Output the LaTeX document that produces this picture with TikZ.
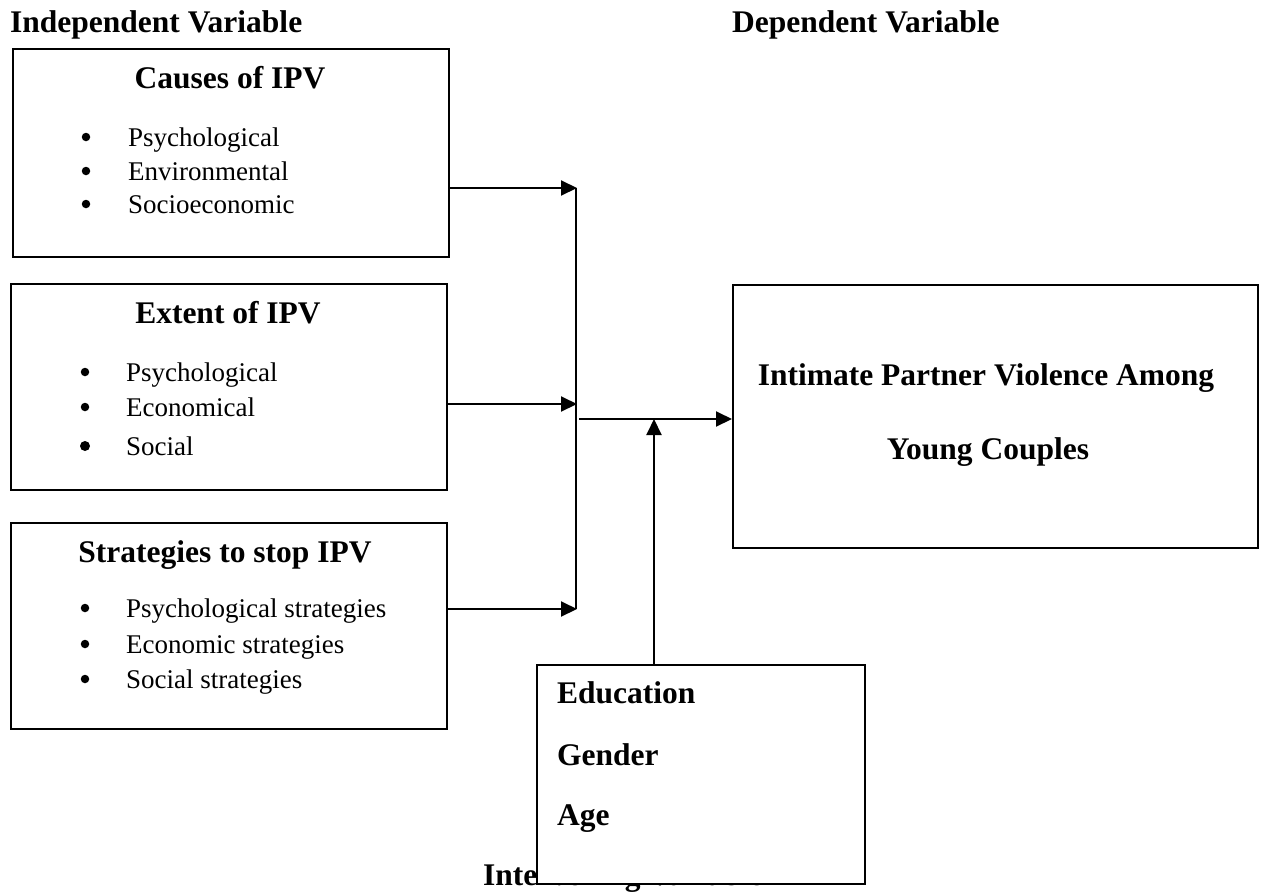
\documentclass[tikz,border=0pt]{standalone}
\usepackage{fontspec}
\setmainfont{Liberation Serif}
\usetikzlibrary{arrows.meta}
\tikzset{
 boxnode/.style={draw, line width=2pt, fill=white, inner sep=0pt, anchor=north west},
 head/.style={font=\fontsize{31.5}{36}\selectfont\bfseries, inner sep=0pt, anchor=base},
 headw/.style={head, anchor=base west},
 item/.style={font=\fontsize{27}{32}\selectfont, inner sep=0pt, anchor=base west},
 bul/.style={circle, fill=black, inner sep=0pt, minimum size=8.5pt},
 bigbul/.style={bul, minimum size=10pt},
 arr/.style={line width=2pt, -{Triangle[length=16pt,width=15pt]}},
 bus/.style={line width=1.2pt},
}
\begin{document}
\begin{tikzpicture}[x=1pt,y=-1pt]
\useasboundingbox (0,0) rectangle (1263,892);

% top labels
\node[headw] (indep) at (10,32) {Independent Variable};
\node[headw] (dep) at (732,32) {Dependent Variable};

% box 1
\node[boxnode, minimum width=436pt, minimum height=208pt] (causes) at (12,48) {};
\node[head] (causesT) at (230,88) {Causes of IPV};
\node[bul] (b11) at (86,137) {};
\node[item] (i11) at (128,146) {Psychological};
\node[bul] (b12) at (86,171) {};
\node[item] (i12) at (128,180) {Environmental};
\node[bul] (b13) at (86,204) {};
\node[item] (i13) at (128,213) {Socioeconomic};

% box 2
\node[boxnode, minimum width=436pt, minimum height=206pt] (extent) at (10,283) {};
\node[head] (extentT) at (228,323) {Extent of IPV};
\node[bul] (b21) at (85,372) {};
\node[item] (i21) at (126,381) {Psychological};
\node[bul] (b22) at (85,407) {};
\node[item] (i22) at (126,416) {Economical};
\node[bigbul] (b23) at (85,446) {};
\node[item] (i23) at (126,455) {Social};

% box 3
\node[boxnode, minimum width=436pt, minimum height=206pt] (strat) at (10,522) {};
\node[head] (stratT) at (225,562) {Strategies to stop IPV};
\node[bul] (b31) at (85,608) {};
\node[item] (i31) at (126,617) {Psychological strategies};
\node[bul] (b32) at (85,644) {};
\node[item] (i32) at (126,653) {Economic strategies};
\node[bul] (b33) at (85,679) {};
\node[item] (i33) at (126,688) {Social strategies};

% dependent box
\node[boxnode, minimum width=525pt, minimum height=263pt] (ipv) at (732,284) {};
\node[head] (ipv1) at (986,385) {Intimate Partner Violence Among};
\node[head] (ipv2) at (988,459) {Young Couples};

% intervening label (partly covered by the box)
\node[headw] (intlab) at (483,885) {Intervening Variable};

% intervening box
\node[boxnode, minimum width=328pt, minimum height=219pt] (inter) at (536,664) {};
\node[headw] (edu) at (557,703) {Education};
\node[headw] (gen) at (557,765) {Gender};
\node[headw] (age) at (557,825) {Age};

% connectors
\coordinate (j1) at (577,188);
\coordinate (j2) at (577,404);
\coordinate (j3) at (577,609);
\coordinate (bt) at (576,188);
\coordinate (bb) at (576,609);
\coordinate (jo) at (579,419);
\coordinate (ju) at (654,419);

\draw[arr] (causes.east |- j1) -- (j1);
\draw[arr] (extent.east |- j2) -- (j2);
\draw[arr] (strat.east |- j3) -- (j3);
\draw[bus] (bt) -- (bb);
\draw[arr] (jo) -- (jo -| ipv.west);
\draw[arr] (inter.north -| ju) -- (ju);
\end{tikzpicture}
\end{document}
